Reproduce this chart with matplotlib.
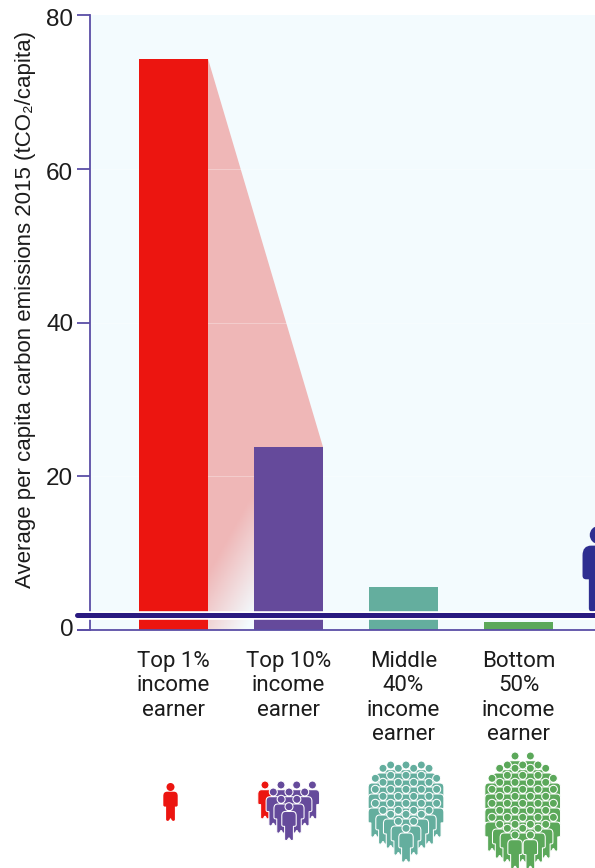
import numpy as np
import matplotlib
matplotlib.use("Agg")
import matplotlib.pyplot as plt
from matplotlib.path import Path
from matplotlib.patches import PathPatch, Polygon
from matplotlib.transforms import blended_transform_factory, ScaledTranslation
import matplotlib.patheffects as pe

# Data
categories = ["Top 1%\nincome\nearner", "Top 10%\nincome\nearner",
              "Middle\n40%\nincome\nearner", "Bottom\n50%\nincome\nearner"]
emissions = [74.3, 23.8, 5.6, 1.0]
bar_colors = ["#ec1510", "#654a9b", "#64ae9e", "#5ba85a"]
y_ticks = [0, 20, 40, 60, 80]
axis_break = 1.95
y_label = "Average per capita carbon emissions 2015 (tCO₂/capita)"

W, H = 595, 868
AXIS_COLOR = "#5b4ea6"
NAVY = "#2a1a80"

fig = plt.figure(figsize=(W / 100, H / 100), dpi=100, facecolor="white")
ax = fig.add_axes([90.5 / W, (H - 630) / H, (W - 90.5) / W, 615 / H])
ax.set_facecolor("#f3fbfe")
ax.set_xlim(-0.7217, 3.665)
ax.set_ylim(0, 80)

# Bars
xpos = np.arange(len(categories))
bar_width = 0.6
ax.bar(xpos, emissions, width=bar_width, color=bar_colors, zorder=3)

# Shaded wedge joining the top two bars, fading out towards the baseline
x0, x1 = xpos[0] + bar_width / 2, xpos[1] + bar_width / 2
wedge = Polygon([(x0, emissions[0]), (x1, emissions[1]), (x1, 0), (x0, 0)],
                closed=True, transform=ax.transData, facecolor="none", edgecolor="none")
ax.add_patch(wedge)
ny, nx = 300, 80
gy, gx = np.mgrid[0:1:complex(ny), 0:1:complex(nx)]   # gy = 0 at the baseline
gx = np.clip(gx, 0, 0.375)                            # only the visible gap fades sideways
fade = np.clip((gy * 80 + 26.7 * (1 - gx) - 18.1) / 16, 0, 1)
rgba = np.zeros((ny, nx, 4))
rgba[..., 0], rgba[..., 1], rgba[..., 2] = 0.94, 0.72, 0.72
rgba[..., 3] = fade
img = ax.imshow(rgba, extent=[x0, x1, 0, 80], origin="lower", aspect="auto", zorder=2)
img.set_clip_path(wedge)
ax.set_xlim(-0.7217, 3.665)
ax.set_ylim(0, 80)

# Faint horizontal guides
for v in y_ticks[1:-1]:
    ax.axhline(v, color="white", lw=0.6, alpha=0.35, zorder=2.5)

# Axes styling
for side in ("top", "right"):
    ax.spines[side].set_visible(False)
for side in ("left", "bottom"):
    ax.spines[side].set_color(AXIS_COLOR)
    ax.spines[side].set_linewidth(1.3)
    ax.spines[side].set_zorder(4)
ax.set_yticks(y_ticks)
ax.tick_params(axis="y", length=9.5, width=1.3, color=AXIS_COLOR, pad=3, labelsize=17.5,
               labelfontfamily="Liberation Sans", labelcolor="#1c1c1c")
# The tick numbers sit slightly off their ticks: lower ones up, upper ones down
for label, shift_px in zip(ax.get_yticklabels(), [3, 0, 0, -3, -3]):
    label.set_transform(label.get_transform()
                        + ScaledTranslation(0, shift_px / 100, fig.dpi_scale_trans))
ax.set_xticks(xpos)
ax.set_xticklabels(categories, family="Roboto", fontsize=16, color="#1c1c1c", linespacing=1.2)
ax.tick_params(axis="x", length=0, pad=15.2)
ax.set_ylabel(y_label, family=["Liberation Sans", "DejaVu Sans"], fontsize=16, color="#1c1c1c")
ax.yaxis.set_label_coords((36 - 90.5) / (W - 90.5), (630 - 310) / 615)

# Pixel-space layer for pictograms and the baseline extension
layer = fig.add_axes([0, 0, 1, 1], zorder=5)
layer.set_xlim(0, W)
layer.set_ylim(H, 0)
layer.axis("off")
layer.patch.set_alpha(0)
layer.plot([77, 91], [630, 630], color=AXIS_COLOR, lw=1.3, solid_capstyle="butt")


def person_path(cx, cy, s=1.0):
    """Standing figure whose head is centred on (cx, cy), y pointing down."""
    m, l, c = Path.MOVETO, Path.LINETO, Path.CURVE3
    right = [((0, 4.7), m), ((3.4, 4.7), l), ((7.2, 4.7), c), ((7.2, 9), c),
             ((7.2, 18), l), ((7.2, 19.6), c), ((5.6, 19.6), c), ((4.4, 19.6), l),
             ((4.4, 32.4), l), ((4.4, 33.9), c), ((2.8, 33.9), c), ((1.2, 33.9), c),
             ((0.6, 31.6), c), ((0, 31.2), l)]
    verts = [p for p, _ in right]
    codes = [k for _, k in right]
    # Mirror the right-hand outline back up the left side
    for i in range(len(right) - 2, -1, -1):
        x, y = right[i][0]
        verts.append((-x, y))
        # The curve code belongs to the segment ending at this point
        codes.append(right[i + 1][1] if right[i + 1][1] != m else l)
    codes[-1] = l
    verts.append(verts[0])
    codes.append(Path.CLOSEPOLY)
    body = Path(np.array(verts, float) * s + (cx, cy), codes)
    head = Path.circle((cx, cy), 4.0 * s)
    return Path.make_compound_path(body, head)


def draw_person(cx, cy, color, s=1.0, edge="white", lw=0.75):
    layer.add_patch(PathPatch(person_path(cx, cy, s), facecolor=color, edgecolor=edge,
                              lw=lw, clip_on=True, zorder=2))


def draw_crowd(cx, rows, color, step=7.67):
    for y, offsets in rows:
        for k in offsets:
            draw_person(cx + k * step, y, color)


# Enlarged figure of the next group, cut by the right edge
draw_person(598.8, 535, "#2e2e90", s=2.26, edge="none", lw=0)

# Pictograms: one figure per person of each group
draw_person(170.5, 787, bar_colors[0], edge="none", lw=0)

draw_person(265, 785, bar_colors[0])
draw_crowd(296.7, [(785, (-2, 0, 2))], bar_colors[1], step=7.85)
draw_crowd(289, [(792, (-2, 0, 2)), (799.3, (-1, 1)), (806.7, (0,))], bar_colors[1], step=7.85)

rows_upper = [(765, (-2, 0, 2)), (768.3, (-3, -1, 1, 3)), (775.3, (-2, 0, 2)), (778.3, (-4, 4)),
              (782.3, (-3, -1, 1, 3)), (789.3, (-4, -2, 0, 2, 4)), (796.3, (-3, -1, 1, 3)),
              (803.3, (-4, -2, 0, 2, 4)), (810.3, (-3, -1, 1, 3))]
draw_crowd(406, rows_upper + [(814.3, (-2, 0, 2)), (821.3, (-1, 1)), (828.3, (0,))], bar_colors[2])
draw_crowd(522.7, [(756, (-1, 1))] + rows_upper + [(817.3, (-4, -2, 0, 2, 4)), (824.3, (-3, -1, 1, 3)),
                                                  (828.3, (-2, 0, 2)), (835, (-1, 1))], bar_colors[3])

# Axis break across the chart
break_tf = blended_transform_factory(layer.transData, ax.transData)
layer.plot([77, W + 5], [axis_break, axis_break], transform=break_tf, color=NAVY, lw=3.6,
           solid_capstyle="round", zorder=6, clip_on=False,
           path_effects=[pe.Stroke(linewidth=6.2, foreground="white"), pe.Normal()])

fig.savefig("out.png", dpi=100, facecolor="white")
